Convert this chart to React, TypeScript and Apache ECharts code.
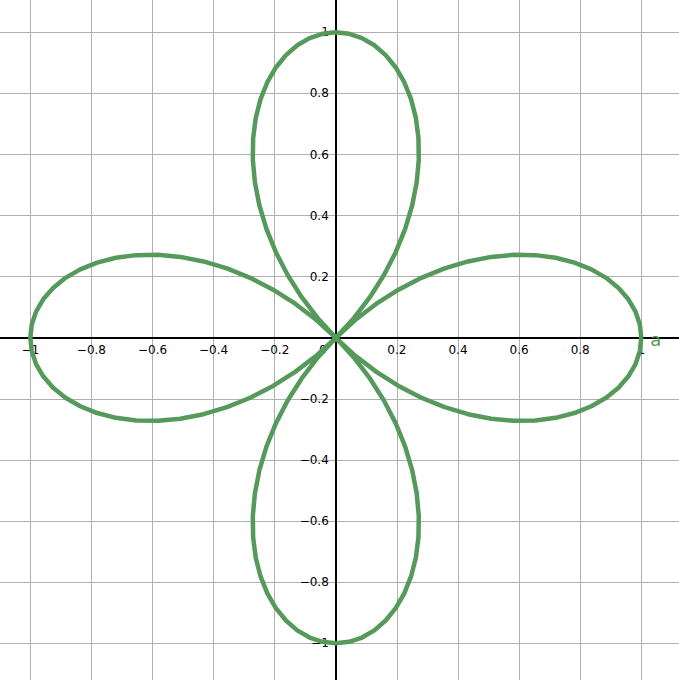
import React, { useEffect, useRef } from "react";
import * as echarts from "echarts";

const seriesName = "a";
// points, in drawing order
const roseX = [
  1, 0.9952, 0.9811, 0.9577, 0.9254, 0.8848, 0.8365, 0.7812, 0.7198, 0.6533, 0.5826, 0.5088, 0.433, 0.3564, 0.2802, 0.2053, 0.133, 0.0643,
  0, -0.0589, -0.1116, -0.1576, -0.1962, -0.2271, -0.25, -0.2648, -0.2716, -0.2706, -0.262, -0.2463, -0.2241, -0.1962, -0.1632, -0.1261, -0.0858, -0.0435,
  0, 0.0435, 0.0858, 0.1261, 0.1632, 0.1962, 0.2241, 0.2463, 0.262, 0.2706, 0.2716, 0.2648, 0.25, 0.2271, 0.1962, 0.1576, 0.1116, 0.0589,
  0, -0.0643, -0.133, -0.2053, -0.2802, -0.3564, -0.433, -0.5088, -0.5826, -0.6533, -0.7198, -0.7812, -0.8365, -0.8848, -0.9254, -0.9577, -0.9811, -0.9952,
  -1, -0.9952, -0.9811, -0.9577, -0.9254, -0.8848, -0.8365, -0.7812, -0.7198, -0.6533, -0.5826, -0.5088, -0.433, -0.3564, -0.2802, -0.2053, -0.133, -0.0643,
  0, 0.0589, 0.1116, 0.1576, 0.1962, 0.2271, 0.25, 0.2648, 0.2716, 0.2706, 0.262, 0.2463, 0.2241, 0.1962, 0.1632, 0.1261, 0.0858, 0.0435,
  0, -0.0435, -0.0858, -0.1261, -0.1632, -0.1962, -0.2241, -0.2463, -0.262, -0.2706, -0.2716, -0.2648, -0.25, -0.2271, -0.1962, -0.1576, -0.1116, -0.0589,
  0, 0.0643, 0.133, 0.2053, 0.2802, 0.3564, 0.433, 0.5088, 0.5826, 0.6533, 0.7198, 0.7812, 0.8365, 0.8848, 0.9254, 0.9577, 0.9811, 0.9952,
  1,
];
const roseY = [
  0, 0.0435, 0.0858, 0.1261, 0.1632, 0.1962, 0.2241, 0.2463, 0.262, 0.2706, 0.2716, 0.2648, 0.25, 0.2271, 0.1962, 0.1576, 0.1116, 0.0589,
  0, -0.0643, -0.133, -0.2053, -0.2802, -0.3564, -0.433, -0.5088, -0.5826, -0.6533, -0.7198, -0.7812, -0.8365, -0.8848, -0.9254, -0.9577, -0.9811, -0.9952,
  -1, -0.9952, -0.9811, -0.9577, -0.9254, -0.8848, -0.8365, -0.7812, -0.7198, -0.6533, -0.5826, -0.5088, -0.433, -0.3564, -0.2802, -0.2053, -0.133, -0.0643,
  0, 0.0589, 0.1116, 0.1576, 0.1962, 0.2271, 0.25, 0.2648, 0.2716, 0.2706, 0.262, 0.2463, 0.2241, 0.1962, 0.1632, 0.1261, 0.0858, 0.0435,
  0, -0.0435, -0.0858, -0.1261, -0.1632, -0.1962, -0.2241, -0.2463, -0.262, -0.2706, -0.2716, -0.2648, -0.25, -0.2271, -0.1962, -0.1576, -0.1116, -0.0589,
  0, 0.0643, 0.133, 0.2053, 0.2802, 0.3564, 0.433, 0.5088, 0.5826, 0.6533, 0.7198, 0.7812, 0.8365, 0.8848, 0.9254, 0.9577, 0.9811, 0.9952,
  1, 0.9952, 0.9811, 0.9577, 0.9254, 0.8848, 0.8365, 0.7812, 0.7198, 0.6533, 0.5826, 0.5088, 0.433, 0.3564, 0.2802, 0.2053, 0.133, 0.0643,
  0, -0.0589, -0.1116, -0.1576, -0.1962, -0.2271, -0.25, -0.2648, -0.2716, -0.2706, -0.262, -0.2463, -0.2241, -0.1962, -0.1632, -0.1261, -0.0858, -0.0435,
  0,
];
const axisMin = -1.2;
const axisMax = 1.2;
const axisStep = 0.2;

const fmt = (v: number) => {
  const s = String(Math.round(v * 10) / 10);
  return s.replace("-", "\u2212");
};

export default function App() {
  const ref = useRef<HTMLDivElement>(null);
  useEffect(() => {
    if (!ref.current) return;
    const chart = echarts.init(ref.current, undefined, { renderer: "svg" });
    const font = "DejaVu Sans";
    const data = roseX.map((x, i) => [x, roseY[i]]);
    const gridLeft = -30.8;
    const gridTop = -28.8;
    const gridSize = 733.2;
    const zeroX = 335.8;
    const zeroY = 337.8;
    chart.setOption({
      animation: false,
      backgroundColor: "#ffffff",
      grid: {
        left: gridLeft,
        top: gridTop,
        width: gridSize,
        height: gridSize,
        containLabel: false,
        outerBoundsMode: "none",
      },
      xAxis: {
        type: "value",
        position: "bottom",
        offset: -(gridTop + gridSize - zeroY),
        min: axisMin,
        max: axisMax,
        interval: axisStep,
        axisLine: { onZero: false, lineStyle: { color: "#000", width: 2 } },
        axisTick: { show: false },
        splitLine: { show: true, lineStyle: { color: "#b0b0b0", width: 1 } },
        axisLabel: {
          margin: 6,
          color: "#000",
          fontFamily: font,
          fontSize: 12,
          showMinLabel: false,
          showMaxLabel: false,
          formatter: (v: number) => (Math.abs(v) < 1e-9 ? "{z|0}" : fmt(v)),
          rich: { z: { fontFamily: font, fontSize: 12, color: "#000", padding: [0, 26, 0, 0] } },
        },
      },
      yAxis: {
        type: "value",
        position: "left",
        offset: -(zeroX - gridLeft),
        min: axisMin,
        max: axisMax,
        interval: axisStep,
        axisLine: { onZero: false, lineStyle: { color: "#000", width: 2 } },
        axisTick: { show: false },
        splitLine: { show: true, lineStyle: { color: "#b0b0b0", width: 1 } },
        axisLabel: {
          margin: 7,
          color: "#000",
          fontFamily: font,
          fontSize: 12,
          showMinLabel: false,
          showMaxLabel: false,
          formatter: (v: number) => (Math.abs(v) < 1e-9 ? "" : fmt(v)),
        },
      },
      series: [
        {
          name: seriesName,
          type: "line",
          data,
          smooth: false,
          showSymbol: false,
          symbol: "none",
          lineStyle: { color: "#559a5a", width: 4.5, join: "round" },
          itemStyle: { color: "#559a5a" },
          endLabel: {
            show: true,
            formatter: "{a}",
            color: "#559a5a",
            fontFamily: font,
            fontSize: 18,
            distance: 9,
            offset: [0, 2],
          },
          z: 5,
        },
      ],
    });
    return () => chart.dispose();
  }, []);
  return <div ref={ref} style={{ width: 679, height: 680, position: "absolute", left: 0, top: 0 }} />;
}
